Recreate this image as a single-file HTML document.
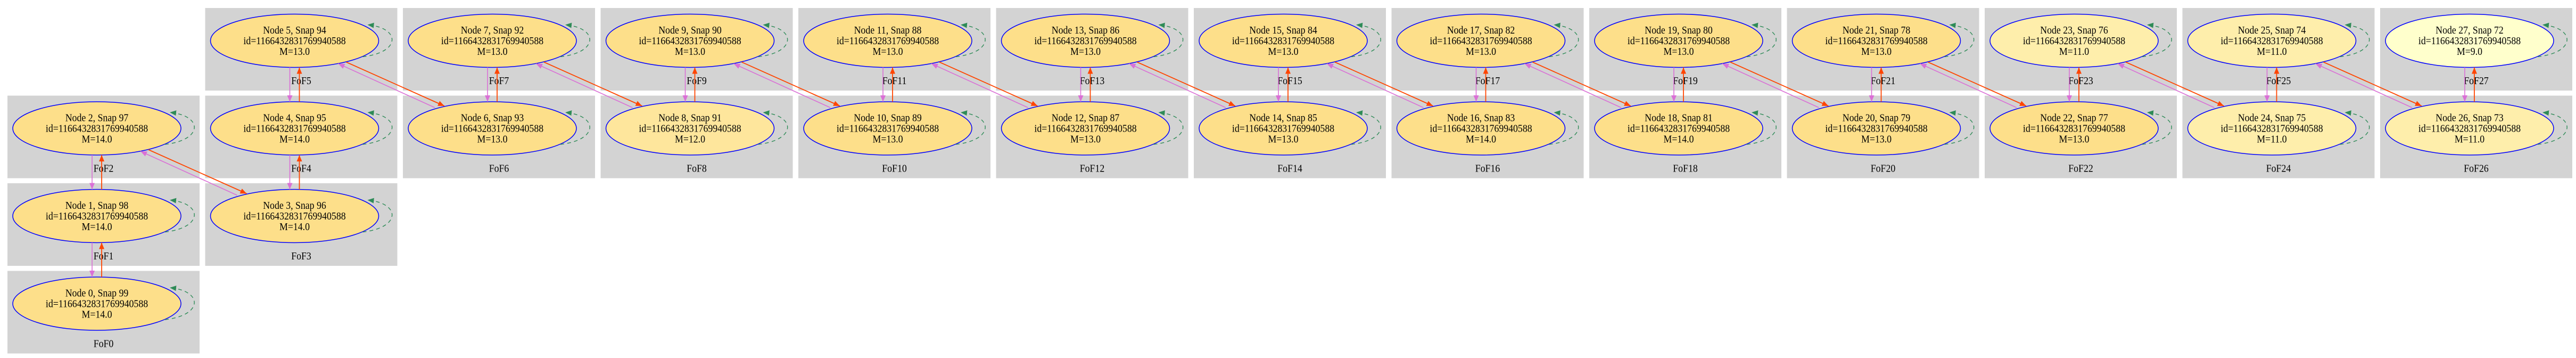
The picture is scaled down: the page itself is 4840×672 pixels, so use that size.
<!DOCTYPE html>
<html><head><meta charset="utf-8"><style>
html,body{margin:0;padding:0;background:#fff;}
svg{display:block;}
text{font-family:"Liberation Serif","Times New Roman",serif;font-size:20px;text-anchor:middle;fill:#000;}
.cl{fill:#d3d3d3;}
.v{stroke:#da70d6;stroke-width:1.6;fill:none;marker-end:url(#mv);}
.o{stroke:#ff4500;stroke-width:1.8;fill:none;marker-end:url(#mo);}
.lp{stroke:#2e8b57;stroke-width:1.4;fill:none;stroke-dasharray:7,6;marker-end:url(#mg);}
.e{stroke:#0000ff;stroke-width:1.5;}
.a{fill:#fddf8a;} .b{fill:#fee69c;} .c{fill:#feeeab;} .d{fill:#ffffcc;}
</style></head><body>
<svg width="4840" height="672" viewBox="0 0 4840 672" xmlns="http://www.w3.org/2000/svg">
<defs>
<marker id="mv" markerUnits="userSpaceOnUse" markerWidth="14" markerHeight="10" refX="12" refY="5" orient="auto"><path d="M0,0 L12,5 L0,10 z" fill="#da70d6"/></marker>
<marker id="mo" markerUnits="userSpaceOnUse" markerWidth="14" markerHeight="10" refX="12" refY="5" orient="auto"><path d="M0,0 L12,5 L0,10 z" fill="#ff4500"/></marker>
<marker id="mg" markerUnits="userSpaceOnUse" markerWidth="14" markerHeight="10" refX="12" refY="5" orient="auto"><path d="M0,0 L12,5 L0,10 z" fill="#2e8b57"/></marker>
<g id="loop"><path class="lp" d="M128,30 C200,22 200,-24 137,-30"/></g>
</defs>

<!-- clusters -->
<rect class="cl" x="14" y="179.5" width="361" height="155"/>
<rect class="cl" x="14" y="344" width="361" height="155"/>
<rect class="cl" x="14" y="508.5" width="361" height="155"/>
<rect class="cl" x="385.5" y="15" width="361" height="155"/>
<rect class="cl" x="385.5" y="179.5" width="361" height="155"/>
<rect class="cl" x="385.5" y="344" width="361" height="155"/>
<rect class="cl" x="757" y="15" width="361" height="155"/><rect class="cl" x="757" y="179.5" width="361" height="155"/>
<rect class="cl" x="1128.5" y="15" width="361" height="155"/><rect class="cl" x="1128.5" y="179.5" width="361" height="155"/>
<rect class="cl" x="1500" y="15" width="361" height="155"/><rect class="cl" x="1500" y="179.5" width="361" height="155"/>
<rect class="cl" x="1871.5" y="15" width="361" height="155"/><rect class="cl" x="1871.5" y="179.5" width="361" height="155"/>
<rect class="cl" x="2243" y="15" width="361" height="155"/><rect class="cl" x="2243" y="179.5" width="361" height="155"/>
<rect class="cl" x="2614.5" y="15" width="361" height="155"/><rect class="cl" x="2614.5" y="179.5" width="361" height="155"/>
<rect class="cl" x="2986" y="15" width="361" height="155"/><rect class="cl" x="2986" y="179.5" width="361" height="155"/>
<rect class="cl" x="3357.5" y="15" width="361" height="155"/><rect class="cl" x="3357.5" y="179.5" width="361" height="155"/>
<rect class="cl" x="3729" y="15" width="361" height="155"/><rect class="cl" x="3729" y="179.5" width="361" height="155"/>
<rect class="cl" x="4100.5" y="15" width="361" height="155"/><rect class="cl" x="4100.5" y="179.5" width="361" height="155"/>
<rect class="cl" x="4472" y="15" width="361" height="155"/><rect class="cl" x="4472" y="179.5" width="361" height="155"/>

<!-- cluster labels -->
<g>
<text transform="translate(194.5,322.5) scale(0.89,1)">FoF2</text>
<text transform="translate(194.5,487) scale(0.89,1)">FoF1</text>
<text transform="translate(194.5,651.5) scale(0.89,1)">FoF0</text>
<text transform="translate(566,158) scale(0.89,1)">FoF5</text>
<text transform="translate(566,322.5) scale(0.89,1)">FoF4</text>
<text transform="translate(566,487) scale(0.89,1)">FoF3</text>
<text transform="translate(937.5,158) scale(0.89,1)">FoF7</text><text transform="translate(937.5,322.5) scale(0.89,1)">FoF6</text>
<text transform="translate(1309,158) scale(0.89,1)">FoF9</text><text transform="translate(1309,322.5) scale(0.89,1)">FoF8</text>
<text transform="translate(1680.5,158) scale(0.89,1)">FoF11</text><text transform="translate(1680.5,322.5) scale(0.89,1)">FoF10</text>
<text transform="translate(2052,158) scale(0.89,1)">FoF13</text><text transform="translate(2052,322.5) scale(0.89,1)">FoF12</text>
<text transform="translate(2423.5,158) scale(0.89,1)">FoF15</text><text transform="translate(2423.5,322.5) scale(0.89,1)">FoF14</text>
<text transform="translate(2795,158) scale(0.89,1)">FoF17</text><text transform="translate(2795,322.5) scale(0.89,1)">FoF16</text>
<text transform="translate(3166.5,158) scale(0.89,1)">FoF19</text><text transform="translate(3166.5,322.5) scale(0.89,1)">FoF18</text>
<text transform="translate(3538,158) scale(0.89,1)">FoF21</text><text transform="translate(3538,322.5) scale(0.89,1)">FoF20</text>
<text transform="translate(3909.5,158) scale(0.89,1)">FoF23</text><text transform="translate(3909.5,322.5) scale(0.89,1)">FoF22</text>
<text transform="translate(4281,158) scale(0.89,1)">FoF25</text><text transform="translate(4281,322.5) scale(0.89,1)">FoF24</text>
<text transform="translate(4652.5,158) scale(0.89,1)">FoF27</text><text transform="translate(4652.5,322.5) scale(0.89,1)">FoF26</text>
</g>

<!-- nodes -->
<g transform="translate(182,570)"><ellipse class="e a" rx="158" ry="50"/><use href="#loop"/><g transform="scale(0.89,1)"><text y="-13.5">Node 0, Snap 99</text><text y="6.5">id=1166432831769940588</text><text y="26.5">M=14.0</text></g></g>
<g transform="translate(182,405.5)"><ellipse class="e a" rx="158" ry="50"/><use href="#loop"/><g transform="scale(0.89,1)"><text y="-13.5">Node 1, Snap 98</text><text y="6.5">id=1166432831769940588</text><text y="26.5">M=14.0</text></g></g>
<g transform="translate(182,241)"><ellipse class="e a" rx="158" ry="50"/><use href="#loop"/><g transform="scale(0.89,1)"><text y="-13.5">Node 2, Snap 97</text><text y="6.5">id=1166432831769940588</text><text y="26.5">M=14.0</text></g></g>
<g transform="translate(553.5,405.5)"><ellipse class="e a" rx="158" ry="50"/><use href="#loop"/><g transform="scale(0.89,1)"><text y="-13.5">Node 3, Snap 96</text><text y="6.5">id=1166432831769940588</text><text y="26.5">M=14.0</text></g></g>
<g transform="translate(553.5,241)"><ellipse class="e a" rx="158" ry="50"/><use href="#loop"/><g transform="scale(0.89,1)"><text y="-13.5">Node 4, Snap 95</text><text y="6.5">id=1166432831769940588</text><text y="26.5">M=14.0</text></g></g>
<g transform="translate(553.5,76.5)"><ellipse class="e a" rx="158" ry="50"/><use href="#loop"/><g transform="scale(0.89,1)"><text y="-13.5">Node 5, Snap 94</text><text y="6.5">id=1166432831769940588</text><text y="26.5">M=13.0</text></g></g>
<g transform="translate(925,241)"><ellipse class="e a" rx="158" ry="50"/><use href="#loop"/><g transform="scale(0.89,1)"><text y="-13.5">Node 6, Snap 93</text><text y="6.5">id=1166432831769940588</text><text y="26.5">M=13.0</text></g></g>
<g transform="translate(925,76.5)"><ellipse class="e a" rx="158" ry="50"/><use href="#loop"/><g transform="scale(0.89,1)"><text y="-13.5">Node 7, Snap 92</text><text y="6.5">id=1166432831769940588</text><text y="26.5">M=13.0</text></g></g>
<g transform="translate(1296.5,241)"><ellipse class="e b" rx="158" ry="50"/><use href="#loop"/><g transform="scale(0.89,1)"><text y="-13.5">Node 8, Snap 91</text><text y="6.5">id=1166432831769940588</text><text y="26.5">M=12.0</text></g></g>
<g transform="translate(1296.5,76.5)"><ellipse class="e a" rx="158" ry="50"/><use href="#loop"/><g transform="scale(0.89,1)"><text y="-13.5">Node 9, Snap 90</text><text y="6.5">id=1166432831769940588</text><text y="26.5">M=13.0</text></g></g>
<g transform="translate(1668,241)"><ellipse class="e a" rx="158" ry="50"/><use href="#loop"/><g transform="scale(0.89,1)"><text y="-13.5">Node 10, Snap 89</text><text y="6.5">id=1166432831769940588</text><text y="26.5">M=13.0</text></g></g>
<g transform="translate(1668,76.5)"><ellipse class="e a" rx="158" ry="50"/><use href="#loop"/><g transform="scale(0.89,1)"><text y="-13.5">Node 11, Snap 88</text><text y="6.5">id=1166432831769940588</text><text y="26.5">M=13.0</text></g></g>
<g transform="translate(2039.5,241)"><ellipse class="e a" rx="158" ry="50"/><use href="#loop"/><g transform="scale(0.89,1)"><text y="-13.5">Node 12, Snap 87</text><text y="6.5">id=1166432831769940588</text><text y="26.5">M=13.0</text></g></g>
<g transform="translate(2039.5,76.5)"><ellipse class="e a" rx="158" ry="50"/><use href="#loop"/><g transform="scale(0.89,1)"><text y="-13.5">Node 13, Snap 86</text><text y="6.5">id=1166432831769940588</text><text y="26.5">M=13.0</text></g></g>
<g transform="translate(2411,241)"><ellipse class="e a" rx="158" ry="50"/><use href="#loop"/><g transform="scale(0.89,1)"><text y="-13.5">Node 14, Snap 85</text><text y="6.5">id=1166432831769940588</text><text y="26.5">M=13.0</text></g></g>
<g transform="translate(2411,76.5)"><ellipse class="e a" rx="158" ry="50"/><use href="#loop"/><g transform="scale(0.89,1)"><text y="-13.5">Node 15, Snap 84</text><text y="6.5">id=1166432831769940588</text><text y="26.5">M=13.0</text></g></g>
<g transform="translate(2782.5,241)"><ellipse class="e a" rx="158" ry="50"/><use href="#loop"/><g transform="scale(0.89,1)"><text y="-13.5">Node 16, Snap 83</text><text y="6.5">id=1166432831769940588</text><text y="26.5">M=14.0</text></g></g>
<g transform="translate(2782.5,76.5)"><ellipse class="e a" rx="158" ry="50"/><use href="#loop"/><g transform="scale(0.89,1)"><text y="-13.5">Node 17, Snap 82</text><text y="6.5">id=1166432831769940588</text><text y="26.5">M=13.0</text></g></g>
<g transform="translate(3154,241)"><ellipse class="e a" rx="158" ry="50"/><use href="#loop"/><g transform="scale(0.89,1)"><text y="-13.5">Node 18, Snap 81</text><text y="6.5">id=1166432831769940588</text><text y="26.5">M=14.0</text></g></g>
<g transform="translate(3154,76.5)"><ellipse class="e a" rx="158" ry="50"/><use href="#loop"/><g transform="scale(0.89,1)"><text y="-13.5">Node 19, Snap 80</text><text y="6.5">id=1166432831769940588</text><text y="26.5">M=13.0</text></g></g>
<g transform="translate(3525.5,241)"><ellipse class="e a" rx="158" ry="50"/><use href="#loop"/><g transform="scale(0.89,1)"><text y="-13.5">Node 20, Snap 79</text><text y="6.5">id=1166432831769940588</text><text y="26.5">M=13.0</text></g></g>
<g transform="translate(3525.5,76.5)"><ellipse class="e a" rx="158" ry="50"/><use href="#loop"/><g transform="scale(0.89,1)"><text y="-13.5">Node 21, Snap 78</text><text y="6.5">id=1166432831769940588</text><text y="26.5">M=13.0</text></g></g>
<g transform="translate(3897,241)"><ellipse class="e a" rx="158" ry="50"/><use href="#loop"/><g transform="scale(0.89,1)"><text y="-13.5">Node 22, Snap 77</text><text y="6.5">id=1166432831769940588</text><text y="26.5">M=13.0</text></g></g>
<g transform="translate(3897,76.5)"><ellipse class="e c" rx="158" ry="50"/><use href="#loop"/><g transform="scale(0.89,1)"><text y="-13.5">Node 23, Snap 76</text><text y="6.5">id=1166432831769940588</text><text y="26.5">M=11.0</text></g></g>
<g transform="translate(4268.5,241)"><ellipse class="e c" rx="158" ry="50"/><use href="#loop"/><g transform="scale(0.89,1)"><text y="-13.5">Node 24, Snap 75</text><text y="6.5">id=1166432831769940588</text><text y="26.5">M=11.0</text></g></g>
<g transform="translate(4268.5,76.5)"><ellipse class="e c" rx="158" ry="50"/><use href="#loop"/><g transform="scale(0.89,1)"><text y="-13.5">Node 25, Snap 74</text><text y="6.5">id=1166432831769940588</text><text y="26.5">M=11.0</text></g></g>
<g transform="translate(4640,241)"><ellipse class="e c" rx="158" ry="50"/><use href="#loop"/><g transform="scale(0.89,1)"><text y="-13.5">Node 26, Snap 73</text><text y="6.5">id=1166432831769940588</text><text y="26.5">M=11.0</text></g></g>
<g transform="translate(4640,76.5)"><ellipse class="e d" rx="158" ry="50"/><use href="#loop"/><g transform="scale(0.89,1)"><text y="-13.5">Node 27, Snap 72</text><text y="6.5">id=1166432831769940588</text><text y="26.5">M=9.0</text></g></g>

<!-- vertical edges -->
<path class="v" d="M173,291 L173,355.5"/><path class="o" d="M191,355.5 L191,291"/>
<path class="v" d="M173,455.5 L173,520"/><path class="o" d="M191,520 L191,455.5"/>
<path class="v" d="M544.5,126.5 L544.5,191"/><path class="o" d="M562.5,191 L562.5,126.5"/>
<path class="v" d="M544.5,291 L544.5,355.5"/><path class="o" d="M562.5,355.5 L562.5,291"/>
<path class="v" d="M916,126.5 L916,191"/><path class="o" d="M934,191 L934,126.5"/>
<path class="v" d="M1287.5,126.5 L1287.5,191"/><path class="o" d="M1305.5,191 L1305.5,126.5"/>
<path class="v" d="M1659,126.5 L1659,191"/><path class="o" d="M1677,191 L1677,126.5"/>
<path class="v" d="M2030.5,126.5 L2030.5,191"/><path class="o" d="M2048.5,191 L2048.5,126.5"/>
<path class="v" d="M2402,126.5 L2402,191"/><path class="o" d="M2420,191 L2420,126.5"/>
<path class="v" d="M2773.5,126.5 L2773.5,191"/><path class="o" d="M2791.5,191 L2791.5,126.5"/>
<path class="v" d="M3145,126.5 L3145,191"/><path class="o" d="M3163,191 L3163,126.5"/>
<path class="v" d="M3516.5,126.5 L3516.5,191"/><path class="o" d="M3534.5,191 L3534.5,126.5"/>
<path class="v" d="M3888,126.5 L3888,191"/><path class="o" d="M3906,191 L3906,126.5"/>
<path class="v" d="M4259.5,126.5 L4259.5,191"/><path class="o" d="M4277.5,191 L4277.5,126.5"/>
<path class="v" d="M4631,126.5 L4631,191"/><path class="o" d="M4649,191 L4649,126.5"/>

<!-- cross edges -->
<path class="o" d="M279,281 L463.5,363.5"/><path class="v" d="M445.5,366.5 L264,284"/>
<path class="o" d="M650.5,116.5 L835,199"/><path class="v" d="M817,202 L635.5,119.5"/>
<path class="o" d="M1022,116.5 L1206.5,199"/><path class="v" d="M1188.5,202 L1007,119.5"/>
<path class="o" d="M1393.5,116.5 L1578,199"/><path class="v" d="M1560,202 L1378.5,119.5"/>
<path class="o" d="M1765,116.5 L1949.5,199"/><path class="v" d="M1931.5,202 L1750,119.5"/>
<path class="o" d="M2136.5,116.5 L2321,199"/><path class="v" d="M2303,202 L2121.5,119.5"/>
<path class="o" d="M2508,116.5 L2692.5,199"/><path class="v" d="M2674.5,202 L2493,119.5"/>
<path class="o" d="M2879.5,116.5 L3064,199"/><path class="v" d="M3046,202 L2864.5,119.5"/>
<path class="o" d="M3251,116.5 L3435.5,199"/><path class="v" d="M3417.5,202 L3236,119.5"/>
<path class="o" d="M3622.5,116.5 L3807,199"/><path class="v" d="M3789,202 L3607.5,119.5"/>
<path class="o" d="M3994,116.5 L4178.5,199"/><path class="v" d="M4160.5,202 L3979,119.5"/>
<path class="o" d="M4365.5,116.5 L4550,199"/><path class="v" d="M4532,202 L4350.5,119.5"/>
</svg>
</body></html>
